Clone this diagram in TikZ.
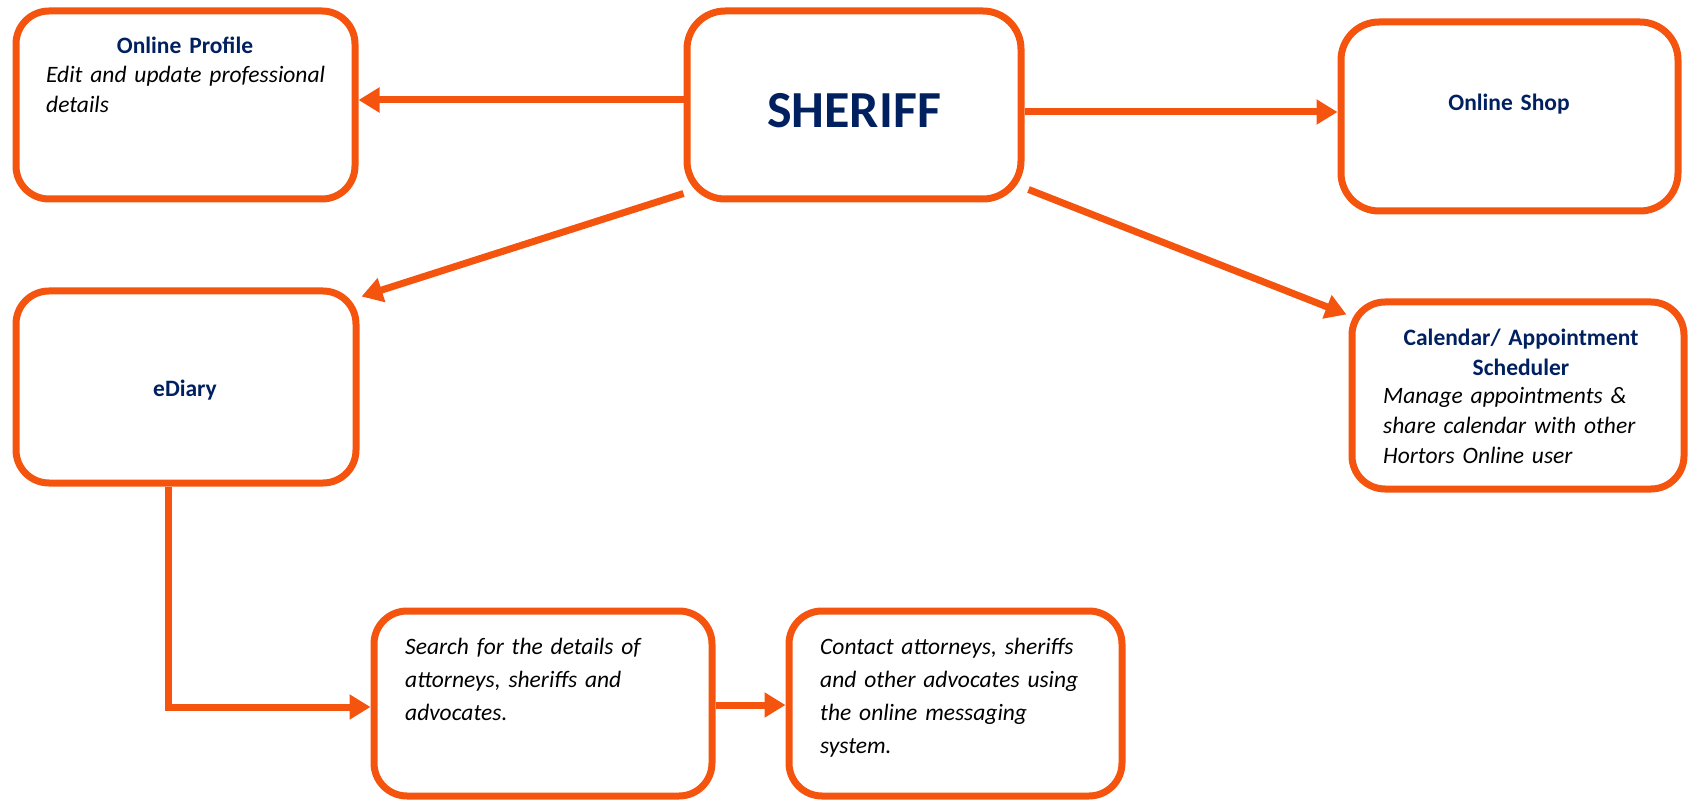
\documentclass[tikz,border=0pt]{standalone}
\usepackage{fontspec}
\setmainfont{Carlito}
\usetikzlibrary{arrows.meta,positioning}
\definecolor{boxorange}{RGB}{244,84,13}
\definecolor{headblue}{RGB}{0,32,96}

\begin{document}
\begin{tikzpicture}[x=1pt, y=-1pt,
  box/.style={draw=boxorange, line width=7pt, rounded corners=33pt, inner sep=0pt},
  head/.style={text=headblue, font=\fontsize{23.5}{29.5}\selectfont\bfseries, anchor=base, text width=330pt, align=center, inner sep=0pt},
  body/.style={font=\fontsize{23.5}{#1}\selectfont\itshape, anchor=base west, text width=320pt, align=left, inner sep=0pt},
  body/.default=30,
  link/.style={draw=boxorange, line width=7pt, -{Triangle[length=21pt,width=24pt]}}]
\useasboundingbox (0,0) rectangle (1690,802);

% boxes
\node[box, minimum width=339pt, minimum height=188pt] (profile) at (185.5,105) {};
\node[box, minimum width=334pt, minimum height=188pt, rounded corners=38pt] (sheriff) at (854,105) {};
\node[box, minimum width=337pt, minimum height=189pt, rounded corners=38pt] (shop) at (1509.5,116.5) {};
\node[box, minimum width=332pt, minimum height=187pt] (calendar) at (1518,395.5) {};
\node[box, minimum width=340pt, minimum height=192pt] (ediary) at (186,387) {};
\node[box, minimum width=338pt, minimum height=185pt] (search) at (543,703.5) {};
\node[box, minimum width=333pt, minimum height=185pt] (contact) at (955.5,703.5) {};

% texts
\node[head] (profilehead) at (185,54) {Online Profile};
\node[body] (profiletext) at (46,83) {Edit and update professional\\details};
\node[head, font=\fontsize{52}{60}\selectfont\bfseries] (sheriffhead) at (854,128) {SHERIFF};
\node[head] (shophead) at (1509,110.5) {Online Shop};
\node[head] (calhead) at (1521,345.5) {Calendar/ Appointment\\Scheduler};
\node[body] (caltext) at (1383,403) {Manage appointments \&\\share calendar with other\\Hortors Online user};
\node[head] (ediaryhead) at (185,396.5) {eDiary};
\node[body=33] (searchtext) at (405,654) {Search for the details of\\attorneys, sheriffs and\\advocates.};
\node[body=33] (contacttext) at (820,654) {Contact attorneys, sheriffs\\and other advocates using\\the online messaging\\system.};

% links
\draw[link] ([yshift=5pt]sheriff.west) -- ([yshift=5pt]profile.east);
\draw[link] ([yshift=-7pt]sheriff.east) -- ([yshift=4.5pt]shop.west);
\draw[link] ([shift={(0pt,9pt)}]sheriff.south west) -- ([shift={(2pt,-9pt)}]ediary.north east);
\draw[link] ([shift={(4pt,13pt)}]sheriff.south east) -- ([shift={(-2pt,-16pt)}]calendar.north west);
\draw[link] ([xshift=-18pt]ediary.south) |- ([yshift=-3.5pt]search.west);
\draw[link] ([yshift=-1.5pt]search.east) -- ([yshift=-1.5pt]contact.west);
\end{tikzpicture}
\end{document}
